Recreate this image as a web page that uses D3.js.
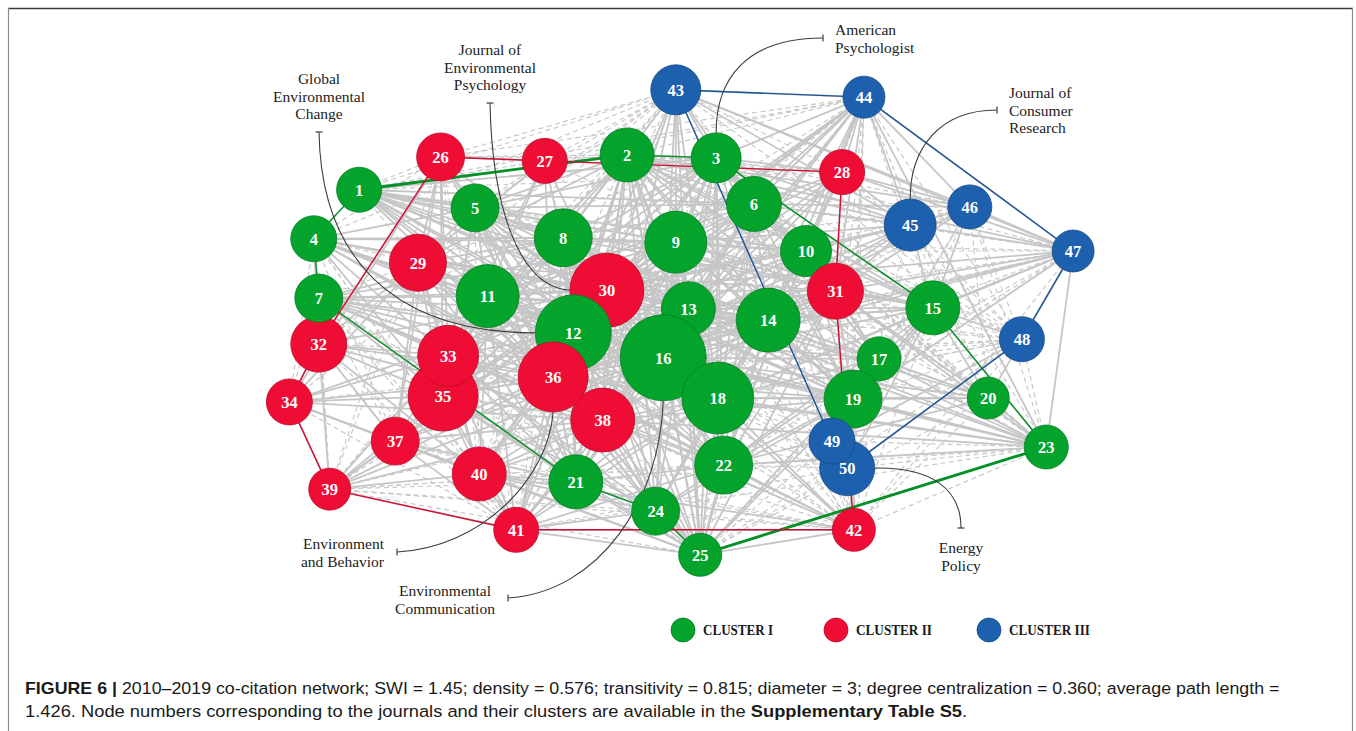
<!DOCTYPE html>
<html>
<head>
<meta charset="utf-8">
<script src="https://cdn.jsdelivr.net/npm/d3@7"></script>
<style>
  html, body { margin: 0; padding: 0; background: #fff; }
  svg { display: block; }
</style>
</head>
<body>
<svg id="chart" width="1356" height="731"></svg>
<script>
// ---- Journals (node ids 1..50) grouped by cluster ----
const clusterNames = ["CLUSTER I", "CLUSTER II", "CLUSTER III"];
const clusterI = d3.range(1, 26);
const clusterII = d3.range(26, 43);
const clusterIII = d3.range(43, 51);

// Network layout coordinates on a 0–100 grid, listed by node id 1..50
const nodeX = [11.8, 43.7, 54.3, 6.4, 25.6, 58.8, 7.0, 36.1, 49.5, 65.0,
               27.1, 37.3, 51.0, 60.5, 80.1, 48.0, 73.7, 54.5, 70.6, 86.7,
               37.6, 55.2, 93.6, 47.1, 52.4,
               21.5, 33.9, 69.3, 18.8, 41.3, 68.5, 7.0, 22.4, 3.5, 21.8,
               34.9, 16.1, 40.8, 8.3, 26.1, 30.5, 70.7,
               49.5, 71.9, 77.4, 84.5, 96.8, 90.7, 68.1, 69.9];
const nodeY = [22.4, 15.3, 15.9, 32.4, 26.1, 25.3, 44.5, 32.2, 33.1, 34.9,
               44.1, 51.6, 46.7, 49.0, 46.5, 56.7, 56.9, 64.9, 65.1, 64.9,
               82.0, 78.6, 74.9, 88.0, 96.9,
               15.7, 16.5, 18.8, 37.3, 42.9, 43.1, 53.9, 56.3, 65.7, 64.5,
               60.6, 73.7, 69.4, 83.5, 80.4, 91.8, 91.8,
               2.0, 3.5, 29.6, 25.9, 34.9, 52.9, 73.7, 79.2];
// Co-citation weight of each journal (drives circle area)
const nodeWeight = [20.3, 29.2, 25, 21.2, 23, 30.3, 23, 33.6, 38.4, 26,
                    39.7, 57.8, 29.2, 41, 29.2, 74, 19.4, 51.8, 33.6, 17.6,
                    29.2, 33.6, 19.4, 23, 18.5,
                    23, 20.3, 20.3, 32.5, 54.8, 31.4, 31.4, 37.2, 21.2, 49,
                    49, 23, 41, 17.6, 29.2, 20.3, 18.5,
                    25, 17.6, 27, 19.4, 17.6, 20.3, 21.2, 30.3];

// Strong co-citation ties ("a: b c d" = a linked to b, c, d)
const strongTies = [
  "1: 2 3 5 6 8 9 10 11 12 13 14 15 16 18 19 22 30 36",
  "2: 3 5 6 8 9 10 11 12 13 14 15 16 17 18 19 21 22 24 25 29 30 31 33 35 36 38 41 45 46 47",
  "3: 5 6 8 9 10 11 12 13 14 15 16 17 18 19 21 22 25 28 30 31 33 35 36 43 44 45",
  "4: 5 7 8 9 11 12 13 14 16 18 22 30 32 33 35 36",
  "5: 6 8 9 11 12 13 14 16 18 21 22 29 30 33 35 36 38",
  "6: 8 9 10 11 12 13 14 15 16 17 18 19 21 22 28 30 31 36 38 43 44 45 46",
  "7: 8 9 11 12 14 16 18 21 22 30 32 33 35 36 38",
  "8: 9 10 11 12 13 14 15 16 18 19 21 22 24 25 29 30 33 35 36 38",
  "9: 10 11 12 13 14 15 16 17 18 19 21 22 24 25 30 31 33 35 36 38 43 44 45",
  "10: 11 12 13 14 15 16 17 18 19 22 28 30 31 36 45",
  "11: 12 13 14 16 18 19 21 22 24 25 29 30 33 35 36 38 40 41",
  "12: 13 14 15 16 17 18 19 21 22 23 24 25 29 30 31 33 35 36 37 38 40 41",
  "13: 14 15 16 17 18 19 20 21 22 23 24 25 28 30 31 36 38",
  "14: 15 16 17 18 19 20 21 22 23 24 25 28 30 31 36 38 44 45",
  "15: 16 17 18 19 20 22 23 31 45 46 47 48 49 50",
  "16: 17 18 19 20 21 22 23 24 25 29 30 31 33 35 36 37 38 39 40 41 42 43 44 45 46 47",
  "17: 18 19 20 22 23 25 31",
  "18: 19 20 21 22 23 24 25 30 31 36 38 40 41 42 43 44 47",
  "19: 20 22 23 24 25 30 31 36 38 42 47",
  "20: 22 23 31 47",
  "21: 22 24 25 29 30 33 35 36 37 38 40 41",
  "22: 23 24 25 30 31 36 38 41 42 44",
  "23: 25 30 31 36 38 44 47",
  "24: 25 30 33 35 36 38 40 41",
  "25: 29 30 31 33 35 36 37 38 40 41 42 43",
  "26: 27 29 30 32 33 34 35 36 37 38",
  "27: 28 29 30 33 35 36 38",
  "28: 30 31 36 38 44 45 46 47",
  "29: 30 31 32 33 34 35 36 37 38 40",
  "30: 31 32 33 34 35 36 37 38 39 40 41 43 44 45 47",
  "31: 36 38 42 44 45 46 47",
  "32: 33 34 35 36 37 38 39 40",
  "33: 34 35 36 37 38 39 40 41",
  "34: 35 36 37 38 39 40",
  "35: 36 37 38 39 40 41 43 44",
  "36: 37 38 39 40 41 42 43 44 45 47",
  "37: 38 39 40 41",
  "38: 39 40 41 42 43 44",
  "39: 40 41",
  "40: 41 42",
  "41: 42",
  "43: 44 45 46 47",
  "44: 45 46 47",
  "45: 46 47",
  "46: 47",
  "47: 48",
  "48: 49 50",
  "49: 50"
];

// Weak co-citation ties
const weakTies = [
  "1: 26 27 28 29 43 44",
  "2: 20 23 26 27 28 40 42 43 44 48",
  "3: 20 23 26 27 29 40 41 46 47 48",
  "4: 26 29 34 37 39 40 41 43",
  "5: 10 26 27 31 40 41 43",
  "6: 20 23 25 42 47 48 50",
  "7: 24 25 29 34 37 39 40 41",
  "8: 27 40 41 43",
  "9: 20 23 40 41 42 46 47",
  "10: 20 23 42 44 46 47 48 49 50",
  "11: 37 39 42 43",
  "12: 20 39 42 43 44 50",
  "13: 41 42 44 47 49 50",
  "14: 42 46 47 48 49 50",
  "15: 25 28 42 44",
  "16: 32 34 48 49 50",
  "17: 42 46 47 48",
  "18: 39 48 49 50",
  "19: 44 46 48 50",
  "20: 25 42 44 45 46 48",
  "21: 23 39 42",
  "22: 39 40 47 50",
  "23: 39 41 42 45 46 48 49 50",
  "24: 37 39 42",
  "25: 34 39 44 48 49 50",
  "26: 28 39 40 41 43 44",
  "27: 31 32 43 44",
  "28: 42 43 48",
  "29: 39 41 43",
  "30: 42 46 48",
  "31: 43 48 50",
  "32: 41 43",
  "33: 42 43 44",
  "34: 41 43",
  "35: 42 47",
  "36: 46 48 50",
  "37: 42",
  "38: 47 48 50",
  "39: 42 43 44",
  "40: 43 44",
  "41: 43 44 50",
  "42: 44 47 48 49 50",
  "43: 48 49 50",
  "44: 48 49 50",
  "45: 48 50",
  "46: 48 49 50"
];

// Backbone ties within each cluster: [source, target, strength]
const backboneI = [[1, 2, 2], [2, 3, 1], [3, 15, 1], [15, 23, 1], [23, 25, 2],
                   [25, 24, 1], [24, 21, 1], [21, 7, 1], [7, 4, 1], [4, 1, 1]];
const backboneII = [[26, 27, 1], [27, 28, 1], [28, 31, 1], [31, 42, 1], [42, 41, 1],
                    [41, 39, 1], [39, 34, 1], [34, 32, 1], [32, 26, 1]];
const backboneIII = [[43, 44, 1], [44, 47, 1], [47, 48, 1], [48, 50, 1], [43, 49, 1], [49, 50, 1]];

// Journals named in callouts
const journalNotes = [
  { node: 12, lines: ["Global", "Environmental", "Change"] },
  { node: 30, lines: ["Journal of", "Environmental", "Psychology"] },
  { node: 3,  lines: ["American", "Psychologist"] },
  { node: 45, lines: ["Journal of", "Consumer", "Research"] },
  { node: 36, lines: ["Environment", "and Behavior"] },
  { node: 16, lines: ["Environmental", "Communication"] },
  { node: 50, lines: ["Energy", "Policy"] }
];

const captionLine1 = [
  { text: "FIGURE 6 |", bold: true },
  { text: " 2010–2019 co-citation network; SWI = 1.45; density = 0.576; transitivity = 0.815; diameter = 3; degree centralization = 0.360; average path length =", bold: false }
];
const captionLine2 = [
  { text: "1.426. Node numbers corresponding to the journals and their clusters are available in the ", bold: false },
  { text: "Supplementary Table S5", bold: true },
  { text: ".", bold: false }
];

// ---- Scales ----
const svg = d3.select("#chart");
const x = d3.scaleLinear().domain([0, 100]).range([260, 1100]);
const y = d3.scaleLinear().domain([0, 100]).range([80, 570]);
const r = d3.scaleSqrt().domain([0, 100]).range([0, 50]);
const color = d3.scaleOrdinal().domain(clusterNames).range(["#03a32c", "#f00d35", "#1d60ad"]);
const tieWidth = d3.scaleLinear().domain([1, 2]).range([1.4, 2.8]);

function clusterOf(id) {
  if (clusterI.includes(id)) return clusterNames[0];
  if (clusterII.includes(id)) return clusterNames[1];
  return clusterNames[2];
}

const nodes = nodeX.map((vx, i) => ({
  id: i + 1,
  cluster: clusterOf(i + 1),
  cx: x(vx),
  cy: y(nodeY[i]),
  r: r(nodeWeight[i])
}));
const byId = new Map(nodes.map(n => [n.id, n]));

function parseTies(list) {
  const out = [];
  list.forEach(s => {
    const [a, rest] = s.split(":");
    rest.trim().split(/\s+/).forEach(b => out.push([+a, +b]));
  });
  return out;
}

// ---- Frame ----
svg.append("line").attr("x1", 8).attr("x2", 1353).attr("y1", 8.5).attr("y2", 8.5)
  .attr("stroke", "#3a3a3a").attr("stroke-width", 1.5);
svg.append("line").attr("x1", 8.5).attr("x2", 8.5).attr("y1", 8).attr("y2", 731)
  .attr("stroke", "#8a8a8a").attr("stroke-width", 1.2);
svg.append("line").attr("x1", 1352.5).attr("x2", 1352.5).attr("y1", 8).attr("y2", 731)
  .attr("stroke", "#8a8a8a").attr("stroke-width", 1.2);

// ---- Gray co-citation ties ----
const gTies = svg.append("g");
gTies.selectAll("line.weak")
  .data(parseTies(weakTies))
  .join("line")
  .attr("class", "weak")
  .attr("x1", d => byId.get(d[0]).cx).attr("y1", d => byId.get(d[0]).cy)
  .attr("x2", d => byId.get(d[1]).cx).attr("y2", d => byId.get(d[1]).cy)
  .attr("stroke", "#c9c9c9").attr("stroke-width", 1.2)
  .attr("stroke-dasharray", "5,3.5");
gTies.selectAll("line.strong")
  .data(parseTies(strongTies))
  .join("line")
  .attr("class", "strong")
  .attr("x1", d => byId.get(d[0]).cx).attr("y1", d => byId.get(d[0]).cy)
  .attr("x2", d => byId.get(d[1]).cx).attr("y2", d => byId.get(d[1]).cy)
  .attr("stroke", "#c6c6c6").attr("stroke-width", 1.8);

// ---- Cluster backbones ----
const backbones = [
  ...backboneI.map(d => ({ s: d[0], t: d[1], w: d[2], cluster: clusterNames[0] })),
  ...backboneII.map(d => ({ s: d[0], t: d[1], w: d[2], cluster: clusterNames[1] })),
  ...backboneIII.map(d => ({ s: d[0], t: d[1], w: d[2], cluster: clusterNames[2] }))
];
svg.append("g").selectAll("line")
  .data(backbones)
  .join("line")
  .attr("x1", d => byId.get(d.s).cx).attr("y1", d => byId.get(d.s).cy)
  .attr("x2", d => byId.get(d.t).cx).attr("y2", d => byId.get(d.t).cy)
  .attr("stroke", d => d3.color(color(d.cluster)).darker(0.35))
  .attr("stroke-width", d => tieWidth(d.w));

// ---- Callouts ----
// label anchor (text position), tick point, and curve control points per journal
const noteLayout = {
  12: { tx: 319, ty: 84, anchor: "middle", p0: [319, 132], c1: [321, 255], c2: [390, 333], angle: 180, tick: "h" },
  30: { tx: 490, ty: 55, anchor: "middle", p0: [490, 103], c1: [492, 205], c2: [518, 287], angle: 180, tick: "h" },
  3:  { tx: 835, ty: 35, anchor: "start",  p0: [823, 38],  c1: [745, 38],  c2: [716, 80],  angle: -90, tick: "v" },
  45: { tx: 1009, ty: 98, anchor: "start", p0: [997, 110], c1: [938, 110], c2: [910, 150], angle: -90, tick: "v" },
  36: { tx: 384, ty: 549, anchor: "end",   p0: [397, 552], c1: [480, 548], c2: [548, 480], angle: 90, tick: "v" },
  16: { tx: 445, ty: 596, anchor: "middle", p0: [508, 598], c1: [600, 592], c2: [660, 500], angle: 90, tick: "v" },
  50: { tx: 961, ty: 553, anchor: "middle", p0: [961, 528], c1: [961, 488], c2: [930, 467], angle: 0, tick: "h" }
};
const gNotes = svg.append("g");
journalNotes.forEach(note => {
  const L = noteLayout[note.node];
  const n = byId.get(note.node);
  const a = L.angle * Math.PI / 180;
  const end = [n.cx + n.r * Math.cos(a), n.cy + n.r * Math.sin(a)];
  const p = d3.path();
  p.moveTo(L.p0[0], L.p0[1]);
  p.bezierCurveTo(L.c1[0], L.c1[1], L.c2[0], L.c2[1], end[0], end[1]);
  gNotes.append("path").attr("d", p.toString())
    .attr("fill", "none").attr("stroke", "#3c3c3c").attr("stroke-width", 1.1);
  const [px, py] = L.p0;
  if (L.tick === "h") {
    gNotes.append("line").attr("x1", px - 3.5).attr("x2", px + 3.5).attr("y1", py).attr("y2", py)
      .attr("stroke", "#3c3c3c").attr("stroke-width", 1.2);
  } else {
    gNotes.append("line").attr("x1", px).attr("x2", px).attr("y1", py - 3.5).attr("y2", py + 3.5)
      .attr("stroke", "#3c3c3c").attr("stroke-width", 1.2);
  }
  const t = gNotes.append("text")
    .attr("x", L.tx).attr("y", L.ty)
    .attr("text-anchor", L.anchor)
    .attr("font-family", "'Liberation Serif', 'DejaVu Serif', serif")
    .attr("font-size", 15.5).attr("fill", "#222");
  note.lines.forEach((line, i) => {
    t.append("tspan").attr("x", L.tx).attr("dy", i === 0 ? 0 : 17.5).text(line);
  });
});

// ---- Nodes ----
const raised = [7, 33, 12, 36, 49];   // overlapping circles drawn last
const drawOrder = nodes.slice().sort((a, b) => {
  const ra = raised.indexOf(a.id), rb = raised.indexOf(b.id);
  if (ra < 0 && rb < 0) return a.id - b.id;
  if (ra < 0) return -1;
  if (rb < 0) return 1;
  return ra - rb;
});
const gNode = svg.append("g").selectAll("g")
  .data(drawOrder)
  .join("g")
  .attr("transform", d => `translate(${d.cx},${d.cy})`);
gNode.append("circle")
  .attr("r", d => d.r)
  .attr("fill", d => color(d.cluster))
  .attr("stroke", d => d3.color(color(d.cluster)).darker(0.7))
  .attr("stroke-width", 0.8);
gNode.append("text")
  .attr("text-anchor", "middle")
  .attr("dy", "0.35em")
  .attr("font-family", "'Liberation Serif', 'DejaVu Serif', serif")
  .attr("font-weight", "bold")
  .attr("font-size", 16.5)
  .attr("fill", "#fff")
  .text(d => d.id);

// ---- Legend ----
const legendX = d3.scalePoint().domain(clusterNames).range([683, 989]);
const legendTextWidth = d3.scaleOrdinal().domain(clusterNames).range([70, 76, 81]);
const legend = svg.append("g").selectAll("g")
  .data(clusterNames)
  .join("g")
  .attr("transform", d => `translate(${legendX(d)},630)`);
legend.append("circle").attr("r", 12)
  .attr("fill", d => color(d))
  .attr("stroke", d => d3.color(color(d)).darker(0.7)).attr("stroke-width", 0.8);
legend.append("text")
  .attr("x", 20).attr("dy", "0.36em")
  .attr("font-family", "'Liberation Serif', 'DejaVu Serif', serif")
  .attr("font-weight", "bold").attr("font-size", 15)
  .attr("textLength", d => legendTextWidth(d))
  .attr("lengthAdjust", "spacingAndGlyphs")
  .attr("fill", "#1a1a1a")
  .text(d => d);

// ---- Caption ----
function captionLine(parts, baseline, targetWidth) {
  const g = svg.append("g");
  const t = g.append("text")
    .attr("x", 0).attr("y", 0)
    .attr("font-family", "'Liberation Sans Narrow', 'Liberation Sans', Arial, sans-serif")
    .attr("font-size", 16.5).attr("fill", "#1a1a1a");
  parts.forEach(p => {
    t.append("tspan").attr("font-weight", p.bold ? "bold" : "normal").text(p.text);
  });
  const w = t.node().getComputedTextLength();
  const k = targetWidth / w;
  g.attr("transform", `translate(25,${baseline}) scale(${k},1)`);
}
captionLine(captionLine1, 694, 1255);
captionLine(captionLine2, 717, 943);
</script>
</body>
</html>
